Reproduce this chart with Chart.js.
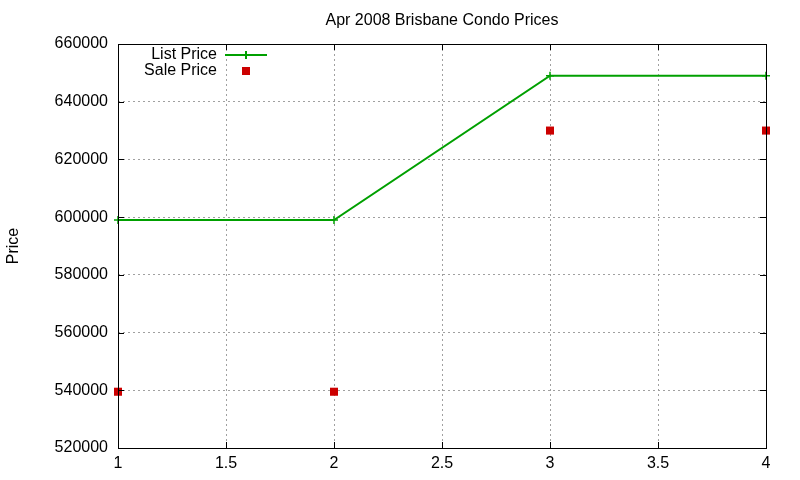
<!DOCTYPE html>
<html>
<head>
<meta charset="utf-8">
<script src="https://cdn.jsdelivr.net/npm/chart.js@4"></script>
<style>
  body { margin: 0; background: #fff; }
  #wrap { width: 800px; height: 480px; }
</style>
</head>
<body>
<div id="wrap"><canvas id="priceChart" width="800" height="480"></canvas></div>
<script>
// data
const xs = [1, 2, 3, 4];
const listPrice = [599000, 599000, 649000, 649000];
const salePrice = [539500, 539500, 630000, 630000];
const yTicks = [520000, 540000, 560000, 580000, 600000, 620000, 640000, 660000];
const xTicks = [1, 1.5, 2, 2.5, 3, 3.5, 4];
const chartTitle = 'Apr 2008 Brisbane Condo Prices';

const FONT = 'Liberation Sans, Arial, sans-serif';

// gnuplot-ish frame: title over the plot, full border, inward ticks, legend inside
const framePlugin = {
  id: 'frame',
  afterDatasetsDraw(chart) {
    const { ctx, chartArea: a, scales } = chart;
    ctx.save();
    ctx.font = '16px ' + FONT;
    ctx.fillStyle = '#000';
    ctx.textAlign = 'center';
    ctx.textBaseline = 'middle';
    ctx.fillText(chartTitle, (a.left + a.right) / 2, 21);

    ctx.strokeStyle = '#000';
    ctx.lineWidth = 1;
    ctx.strokeRect(a.left + 0.5, a.top + 0.5, a.right - a.left, a.bottom - a.top);
    ctx.beginPath();
    yTicks.forEach(v => {
      const y = Math.round(scales.y.getPixelForValue(v)) + 0.5;
      ctx.moveTo(a.left, y); ctx.lineTo(a.left + 6, y);
      ctx.moveTo(a.right, y); ctx.lineTo(a.right - 6, y);
    });
    xTicks.forEach(v => {
      const x = Math.round(scales.x.getPixelForValue(v)) + 0.5;
      ctx.moveTo(x, a.bottom); ctx.lineTo(x, a.bottom - 6);
      ctx.moveTo(x, a.top); ctx.lineTo(x, a.top + 6);
    });
    ctx.stroke();

    // legend
    ctx.textAlign = 'right';
    ctx.fillText('List Price', 217, 55);
    ctx.fillText('Sale Price', 217, 71);
    ctx.strokeStyle = '#00a000';
    ctx.lineWidth = 2;
    ctx.beginPath();
    ctx.moveTo(225, 55); ctx.lineTo(267, 55);
    ctx.moveTo(246, 51); ctx.lineTo(246, 59);
    ctx.stroke();
    ctx.fillStyle = '#cc0000';
    ctx.fillRect(242, 67, 8, 8);
    ctx.restore();
  }
};

new Chart(document.getElementById('priceChart'), {
  type: 'line',
  data: {
    datasets: [{
      label: 'List Price',
      data: xs.map((x, i) => ({ x: x, y: listPrice[i] })),
      borderColor: '#00a000',
      backgroundColor: '#00a000',
      borderWidth: 2,
      pointStyle: 'cross',
      pointRadius: 4,
      pointBorderWidth: 1.5,
      tension: 0,
      clip: false
    }, {
      label: 'Sale Price',
      data: xs.map((x, i) => ({ x: x, y: salePrice[i] })),
      showLine: false,
      borderColor: '#cc0000',
      backgroundColor: '#cc0000',
      pointStyle: 'rect',
      pointRadius: 5.7,
      pointBorderWidth: 0,
      clip: false
    }]
  },
  options: {
    responsive: false,
    animation: false,
    layout: { padding: { left: 0, right: 34, top: 44, bottom: 0 } },
    plugins: {
      legend: { display: false },
      tooltip: { enabled: false },
      title: { display: false }
    },
    scales: {
      x: {
        type: 'linear',
        min: 1,
        max: 4,
        afterBuildTicks(s) { s.ticks = xTicks.map(v => ({ value: v })); },
        afterFit(s) { s.height = 32; },
        ticks: {
          color: '#000',
          font: { family: FONT, size: 16 },
          padding: 6,
          maxRotation: 0,
          callback: v => String(v)
        },
        grid: {
          color: ctx => (ctx.tick && (ctx.tick.value === 1 || ctx.tick.value === 4)) ? 'rgba(0,0,0,0)' : '#a0a0a0',
          lineWidth: 1,
          drawTicks: false
        },
        border: { display: false, dash: [2, 3] }
      },
      y: {
        type: 'linear',
        min: 520000,
        max: 660000,
        afterBuildTicks(s) { s.ticks = yTicks.map(v => ({ value: v })); },
        afterFit(s) { s.width = 118; },
        title: {
          display: true,
          text: 'Price',
          color: '#000',
          font: { family: FONT, size: 16 },
          padding: { top: 4, bottom: 20 }
        },
        ticks: {
          color: '#000',
          font: { family: FONT, size: 16 },
          padding: 10,
          callback: v => String(v)
        },
        grid: {
          color: ctx => (ctx.tick && (ctx.tick.value === 520000 || ctx.tick.value === 660000)) ? 'rgba(0,0,0,0)' : '#a0a0a0',
          lineWidth: 1,
          drawTicks: false
        },
        border: { display: false, dash: [2, 3] }
      }
    }
  },
  plugins: [framePlugin]
});
</script>
</body>
</html>
